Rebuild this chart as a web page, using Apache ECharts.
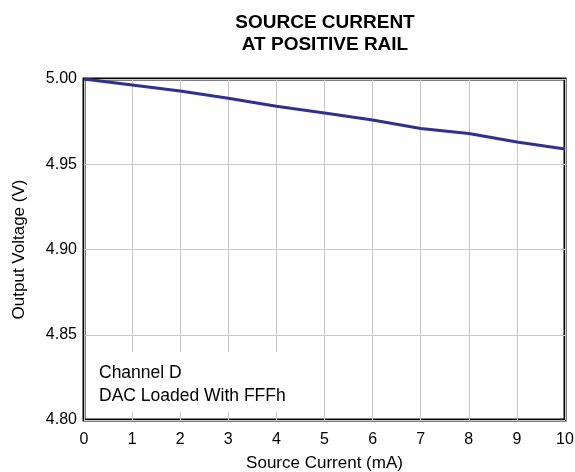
<!DOCTYPE html>
<html>
<head>
<meta charset="utf-8">
<script src="https://cdn.jsdelivr.net/npm/echarts@6/dist/echarts.min.js"></script>
<style>html,body{margin:0;padding:0;background:#fff}#c{width:575px;height:472px}</style>
</head>
<body>
<div id="c"></div>
<script>
const currents = [0, 1, 2, 3, 4, 5, 6, 7, 8, 9, 10];
const voltages = [5.000, 4.9965, 4.993, 4.9887, 4.984, 4.980, 4.976, 4.971, 4.968, 4.963, 4.959];
const titleLines = ['SOURCE CURRENT', 'AT POSITIVE RAIL'];
const noteLines = ['Channel D', 'DAC Loaded With FFFh'];

const chart = echarts.init(document.getElementById('c'), null, {renderer: 'canvas'});
const font = 'Arial, "Liberation Sans", Helvetica, sans-serif';
chart.setOption({
  animation: false,
  title: {
    text: titleLines.join('\n'),
    left: 320, top: 7, textAlign: 'center',
    textStyle: {fontFamily: font, fontSize: 19, fontWeight: 'bold', color: '#000', lineHeight: 22}
  },
  grid: {left: 84, right: 10, top: 79, bottom: 52, show: true, borderColor: '#000', borderWidth: 3,
         backgroundColor: 'transparent', containLabel: false, outerBoundsMode: 'none'},
  xAxis: {
    type: 'value', min: 0, max: 10, interval: 1,
    name: 'Source Current (mA)', nameLocation: 'middle', nameGap: 35,
    nameTextStyle: {fontFamily: font, fontSize: 17, color: '#000'},
    axisLine: {show: false}, axisTick: {show: false},
    axisLabel: {fontFamily: font, fontSize: 16, color: '#000', margin: 12},
    splitLine: {show: true, lineStyle: {color: '#c8c8c8', width: 1}}
  },
  yAxis: {
    type: 'value', min: 4.80, max: 5.00, interval: 0.05,
    name: 'Output Voltage (V)', nameLocation: 'middle', nameGap: 56,
    nameTextStyle: {fontFamily: font, fontSize: 17, color: '#000'},
    axisLine: {show: false}, axisTick: {show: false},
    axisLabel: {fontFamily: font, fontSize: 16, color: '#000', margin: 7, formatter: v => v.toFixed(2)},
    splitLine: {show: true, lineStyle: {color: '#c8c8c8', width: 1}}
  },
  graphic: [{
    type: 'rect', left: 86, top: 352, z: 1,
    shape: {width: 208, height: 60},
    style: {fill: '#fff'}
  }, {
    type: 'text', left: 99, top: 362, z: 2,
    style: {text: noteLines.join('\n'), font: '17.5px ' + font, fill: '#000', lineHeight: 23}
  }],
  series: [{
    type: 'line', data: currents.map((c, i) => [c, voltages[i]]),
    showSymbol: false, smooth: false,
    lineStyle: {color: '#2e3192', width: 3}
  }]
});
</script>
</body>
</html>
